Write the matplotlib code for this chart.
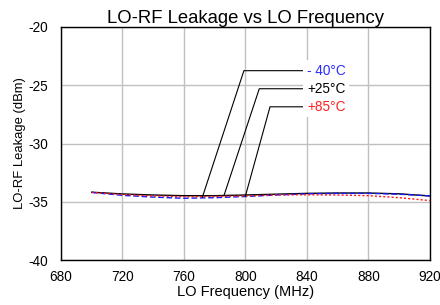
import matplotlib
matplotlib.use("Agg")
import matplotlib.pyplot as plt

plt.rcParams["font.family"] = ["Liberation Sans", "DejaVu Sans"]
plt.rcParams["axes.unicode_minus"] = False

freq_mhz = [700, 720, 740, 760, 780, 800, 820, 840, 860, 880, 900, 920]
leak_m40 = [-34.2, -34.45, -34.6, -34.7, -34.65, -34.55, -34.42, -34.32, -34.28, -34.28, -34.35, -34.5]
leak_p25 = [-34.18, -34.33, -34.42, -34.48, -34.48, -34.42, -34.35, -34.28, -34.25, -34.25, -34.32, -34.5]
leak_p85 = [-34.2, -34.38, -34.5, -34.56, -34.55, -34.5, -34.42, -34.4, -34.42, -34.48, -34.65, -34.9]

labels = ["- 40°C", "+25°C", "+85°C"]
label_colors = ["#2a2aff", "black", "#ff2020"]
# leader lines: (point on curve, elbow, label anchor)
leader_start = [(772, -34.6), (786, -34.48), (800, -34.5)]
leader_elbow = [(799, -23.75), (809, -25.3), (816, -26.85)]
leader_end_x = 837.5
label_x = 840

fig = plt.figure(figsize=(4.4, 3.05), dpi=100)
ax = fig.add_axes([0.1386, 0.1475, 0.8384, 0.764])

ax.plot(freq_mhz, leak_p25, color="black", lw=1.0, zorder=3)
ax.plot(freq_mhz, leak_m40, color="#1a1aff", lw=1.0, ls=(0, (4, 2)), zorder=4)
ax.plot(freq_mhz, leak_p85, color="#ff1a1a", lw=1.0, ls=(0, (1.5, 1.5)), zorder=5)

for (x0, y0), (x1, y1), text, col in zip(leader_start, leader_elbow, labels, label_colors):
    ax.plot([x0, x1, leader_end_x], [y0, y1, y1], color="black", lw=0.8, zorder=6)
    ax.text(label_x, y1, text, color=col, fontsize=9.8, va="center", ha="left", zorder=7,
            bbox=dict(facecolor="white", edgecolor="none", pad=2.5))

ax.set_xlim(680, 920)
ax.set_ylim(-40, -20)
ax.set_xticks(range(680, 921, 40))
ax.set_yticks(range(-40, -19, 5))
ax.tick_params(length=0, labelsize=9.8)
ax.tick_params(axis="y", pad=9)
ax.tick_params(axis="x", pad=7)
ax.grid(True, color="#c0c0c0", lw=1.0)
ax.set_axisbelow(True)
for sp in ax.spines.values():
    sp.set_linewidth(1.0)
    sp.set_color("black")

ax.set_title("LO-RF Leakage vs LO Frequency", fontsize=13.3, pad=3)
ax.set_xlabel("LO Frequency (MHz)", fontsize=10.5, labelpad=1)
ax.set_ylabel("LO-RF Leakage (dBm)", fontsize=9.4, labelpad=2)

fig.savefig("out.png", dpi=100)
